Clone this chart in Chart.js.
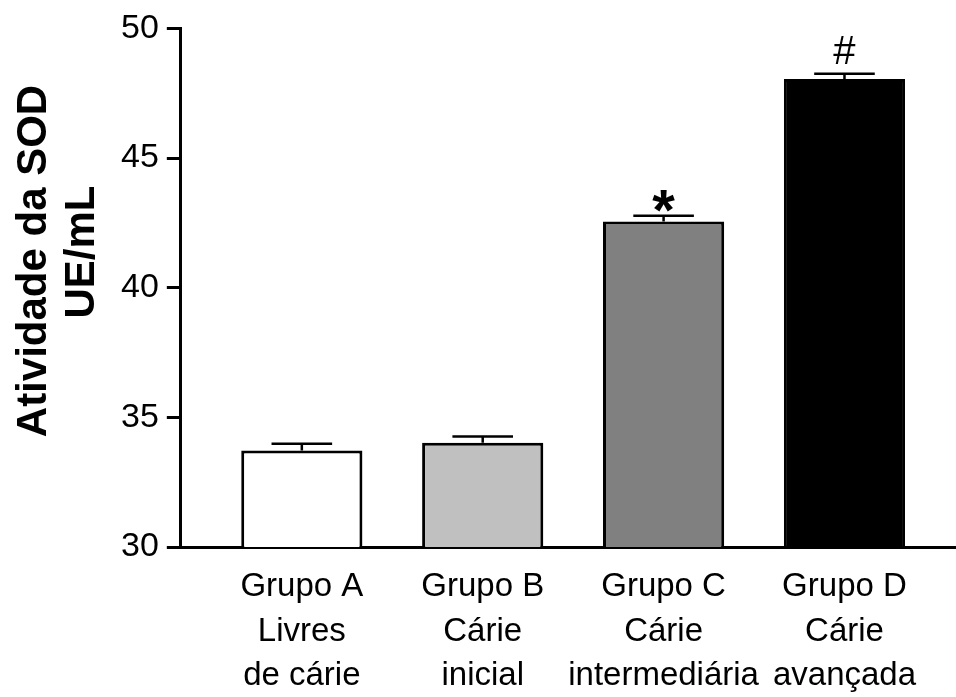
<!DOCTYPE html>
<html>
<head>
<meta charset="utf-8">
<script src="https://cdn.jsdelivr.net/npm/chart.js@4"></script>
<style>
  html, body { margin: 0; padding: 0; background: #fff; }
</style>
</head>
<body>
<canvas id="my-chart" width="956" height="697"></canvas>
<script>
'use strict';

// ******* DATA ********
let groupLabels = [
  ['Grupo A', 'Livres', 'de cárie'],
  ['Grupo B', 'Cárie', 'inicial'],
  ['Grupo C', 'Cárie', 'intermediária'],
  ['Grupo D', 'Cárie', 'avançada']
];
let sodValues = [33.72, 34.02, 42.55, 48.05];
let sodErrors = [0.26, 0.24, 0.22, 0.2];
let sigMarks = ['', '', '*', '#'];
let yTicks = [30, 35, 40, 45, 50];
let yTitle = ['Atividade da SOD', 'UE/mL'];

let barColors = ['#ffffff', '#c0c0c0', '#808080', '#000000'];
let fontName = '"Liberation Sans", Arial, sans-serif';

// ******* CANVAS ELEMENT FOR CHART *****
let ctx = document.getElementById('my-chart');

// error bars + significance marks
const errorBarPlugin = {
  id: 'errorBars',
  afterDatasetsDraw(chart) {
    let c = chart.ctx;
    let meta = chart.getDatasetMeta(0);
    let yScale = chart.scales.y;
    c.save();
    c.strokeStyle = '#000';
    c.fillStyle = '#000';
    c.lineWidth = 2.5;
    meta.data.forEach((bar, i) => {
      let top = yScale.getPixelForValue(sodValues[i] + sodErrors[i]);
      let half = bar.width / 4;
      c.beginPath();
      c.moveTo(bar.x, bar.y);
      c.lineTo(bar.x, top);
      c.moveTo(bar.x - half, top);
      c.lineTo(bar.x + half, top);
      c.stroke();

      if (sigMarks[i] === '*') {
        c.font = 'bold 58px ' + fontName;
        c.textAlign = 'center';
        c.textBaseline = 'alphabetic';
        c.fillText('*', bar.x, top + 14);
      } else if (sigMarks[i]) {
        c.font = '40px ' + fontName;
        c.textAlign = 'center';
        c.textBaseline = 'alphabetic';
        c.fillText(sigMarks[i], bar.x, top - 10);
      }
    });
    c.restore();
  }
};

// two line y axis title, drawn rotated
const yTitlePlugin = {
  id: 'yTitle',
  afterDraw(chart) {
    let c = chart.ctx;
    c.save();
    c.fillStyle = '#000';
    c.font = 'bold 42px ' + fontName;
    c.textAlign = 'center';
    c.textBaseline = 'alphabetic';
    c.translate(46, 261);
    c.rotate(-Math.PI / 2);
    c.fillText(yTitle[0], 0, 0);
    c.fillText(yTitle[1], 9, 48);
    c.restore();
  }
};

let chartObj = {
  type: 'bar',
  data: {
    datasets: [{
      data: sodValues.map((v, i) => ({ x: i, y: v })),
      backgroundColor: barColors,
      borderColor: '#000',
      borderWidth: 3,
      borderSkipped: 'start',
      barPercentage: 0.67,
      categoryPercentage: 1
    }]
  },
  options: {
    responsive: false,
    animation: false,
    devicePixelRatio: 1,
    layout: {
      padding: { left: 113, top: 2, right: 1, bottom: 0 }
    },
    plugins: {
      legend: { display: false },
      tooltip: { enabled: false }
    },
    scales: {
      x: {
        type: 'linear',
        offset: false,
        min: -0.669,
        max: 3.611,
        afterBuildTicks: (scale) => {
          scale.ticks = groupLabels.map((l, i) => ({ value: i }));
        },
        afterFit: (scale) => {
          scale.height = 150;
        },
        ticks: {
          callback: (value, index) => groupLabels[index],
          autoSkip: false,
          maxRotation: 0,
          padding: 18,
          color: '#000',
          font: { family: fontName, size: 33, lineHeight: 1.35 }
        },
        grid: { display: false, drawTicks: false, offset: false },
        border: { display: true, color: '#000', width: 3 }
      },
      y: {
        min: 30,
        max: 50,
        afterBuildTicks: (scale) => {
          scale.ticks = yTicks.map(v => ({ value: v }));
        },
        ticks: {
          padding: 8,
          color: '#000',
          font: { family: fontName, size: 34 }
        },
        grid: {
          drawOnChartArea: false,
          drawTicks: true,
          tickLength: 14,
          color: '#000',
          lineWidth: 3
        },
        border: { display: true, color: '#000', width: 3 }
      }
    }
  },
  plugins: [errorBarPlugin, yTitlePlugin]
};

new Chart(ctx, chartObj); //eslint-disable-line
</script>
</body>
</html>
